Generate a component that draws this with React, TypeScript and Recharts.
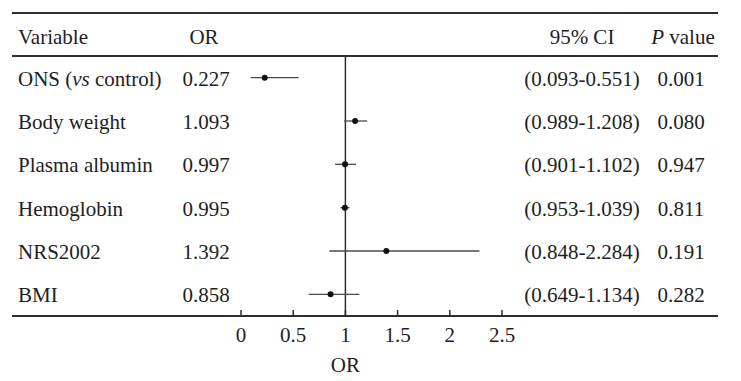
import React from 'react';
import {
  ScatterChart,
  Scatter,
  ErrorBar,
  XAxis,
  YAxis,
  ReferenceLine,
  Customized,
} from 'recharts';

// Rows of the forest plot (top to bottom)
const variables = ['ONS (vs control)', 'Body weight', 'Plasma albumin', 'Hemoglobin', 'NRS2002', 'BMI'];
const oddsRatios = [0.227, 1.093, 0.997, 0.995, 1.392, 0.858];
const ciLower = [0.093, 0.989, 0.901, 0.953, 0.848, 0.649];
const ciUpper = [0.551, 1.208, 1.102, 1.039, 2.284, 1.134];
const pValues = ['0.001', '0.080', '0.947', '0.811', '0.191', '0.282'];
const xTicks = [0, 0.5, 1, 1.5, 2, 2.5];

const W = 741;
const H = 381;
const FONT = '"Liberation Serif", "Times New Roman", serif';
const FS = 21;
const INK = '#1e1e1e';
const RULE = '#2e2e2e';
const TOP = 56; // plot top = header rule
const BOTTOM = 316; // plot bottom = axis rule

// column anchors of the table text
const COL_VAR = 18;
const COL_OR = 206;
const COL_CI = 582;
const COL_P = 681;

const rows = variables.map((name, i) => ({
  name,
  or: oddsRatios[i],
  err: [oddsRatios[i] - ciLower[i], ciUpper[i] - oddsRatios[i]],
}));

const renderName = (name: string) =>
  name.split(/(\bvs\b)/).map((part, k) =>
    part === 'vs' ? (
      <tspan key={k} fontStyle="italic">
        {part}
      </tspan>
    ) : (
      <tspan key={k}>{part}</tspan>
    )
  );

const RowTick = ({ y, payload }: any) => {
  const i = variables.indexOf(payload.value);
  const by = y + 8;
  return (
    <g fontFamily={FONT} fontSize={FS} fill={INK}>
      <text x={COL_VAR} y={by}>{renderName(payload.value)}</text>
      <text x={COL_OR} y={by} textAnchor="middle">
        {oddsRatios[i].toFixed(3)}
      </text>
      <text x={COL_CI} y={by} textAnchor="middle">
        {`(${ciLower[i].toFixed(3)}-${ciUpper[i].toFixed(3)})`}
      </text>
      <text x={COL_P} y={by} textAnchor="middle">
        {pValues[i]}
      </text>
    </g>
  );
};

const AxisTick = ({ x, y, payload }: any) => (
  <g>
    <line x1={x} x2={x} y1={y - 6} y2={y} stroke={RULE} strokeWidth={1.5} />
    <text x={x} y={y + 26} textAnchor="middle" fontFamily={FONT} fontSize={FS} fill={INK}>
      {payload.value}
    </text>
  </g>
);

// table rules and column headers
const Frame = () => (
  <g>
    <line x1={12} x2={718} y1={13} y2={13} stroke={RULE} strokeWidth={1.8} />
    <line x1={12} x2={718} y1={TOP} y2={TOP} stroke={RULE} strokeWidth={1.8} />
    <line x1={12} x2={718} y1={BOTTOM} y2={BOTTOM} stroke={RULE} strokeWidth={1.8} />
    <g fontFamily={FONT} fontSize={FS} fill={INK}>
      <text x={COL_VAR} y={44}>Variable</text>
      <text x={COL_OR - 2} y={44} textAnchor="middle">OR</text>
      <text x={COL_CI} y={44} textAnchor="middle">95% CI</text>
      <text x={COL_P + 2} y={44} textAnchor="middle">
        <tspan fontStyle="italic">P</tspan> value
      </text>
    </g>
  </g>
);

const Dot = ({ cx, cy }: any) => <circle cx={cx} cy={cy} r={3} fill="#111" />;

export default function App() {
  return (
    <div style={{ position: 'absolute', left: 0, top: 0, width: W, height: H, background: '#fff' }}>
      <ScatterChart width={W} height={H} margin={{ top: TOP, right: 239, bottom: 5, left: 0 }}>
        <XAxis
          type="number"
          dataKey="or"
          domain={[0, 2.5]}
          allowDataOverflow
          ticks={xTicks}
          interval={0}
          height={60}
          axisLine={false}
          tickLine={false}
          tickSize={0}
          tickMargin={0}
          tick={<AxisTick />}
        />
        <YAxis
          type="category"
          dataKey="name"
          width={241}
          interval={0}
          reversed
          axisLine={false}
          tickLine={false}
          tick={<RowTick />}
        />
        <Customized component={Frame} />
        <ReferenceLine
          x={1}
          stroke={RULE}
          strokeWidth={1.5}
          label={{ value: 'OR', position: 'bottom', offset: 41, fontFamily: FONT, fontSize: FS, fill: INK }}
        />
        <Scatter data={rows} shape={<Dot />} isAnimationActive={false}>
          <ErrorBar dataKey="err" direction="x" width={0} stroke="#4a4a4a" strokeWidth={1.3} />
        </Scatter>
      </ScatterChart>
    </div>
  );
}
